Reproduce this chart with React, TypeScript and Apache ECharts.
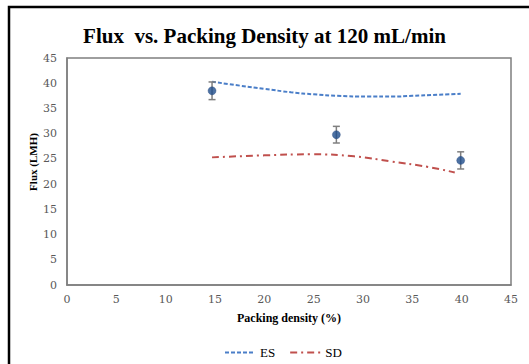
import React, { useEffect, useRef } from "react";
import * as echarts from "echarts";

const titleText = "Flux  vs. Packing Density at 120 mL/min";
const xName = "Packing density (%)";
const yName = "Flux (LMH)";

const pointX = [14.7, 27.3, 39.9];
const pointY = [38.5, 29.8, 24.7];
const pointErr = [1.75, 1.65, 1.7];

const esX = [14.7, 17.6, 20, 22.7, 25, 27.4, 30.5, 33, 35, 37.5, 39.9];
const esY = [40.3, 39.5, 38.9, 38.2, 37.8, 37.5, 37.35, 37.35, 37.5, 37.7, 37.9];

const sdX = [14.7, 20, 24.7, 29.1, 32.8, 36.6, 39.3];
const sdY = [25.3, 25.7, 25.9, 25.5, 24.5, 23.4, 22.3];

const SERIF = "Liberation Serif";
const TICKFONT = "DejaVu Serif";

export default function App() {
  const ref = useRef<HTMLDivElement>(null);
  useEffect(() => {
    document.body.style.margin = "0";
    const chart = echarts.init(ref.current!, null, { renderer: "svg" });
    const option: any = {
      animation: false,
      backgroundColor: "#fff",
      title: {
        text: titleText,
        left: "center",
        top: 20,
        textStyle: { fontFamily: SERIF, fontSize: 21, fontWeight: "bold", color: "#000" },
      },
      grid: {
        left: 67,
        right: 18,
        top: 58,
        bottom: 79,
        show: true,
        borderColor: "#7f7f7f",
        borderWidth: 1.5,
      },
      xAxis: {
        type: "value",
        min: 0,
        max: 45,
        interval: 5,
        name: xName,
        nameLocation: "middle",
        nameGap: 27,
        nameTextStyle: { fontFamily: SERIF, fontSize: 12, fontWeight: "bold", color: "#000" },
        axisLine: { show: true, lineStyle: { color: "#7f7f7f", width: 1.5 } },
        axisTick: { show: false },
        splitLine: { show: false },
        axisLabel: { fontFamily: TICKFONT, fontSize: 11, color: "#595959", margin: 9 },
      },
      yAxis: {
        type: "value",
        min: 0,
        max: 45,
        interval: 5,
        axisLine: { show: true, lineStyle: { color: "#7f7f7f", width: 1.5 } },
        axisTick: { show: false },
        splitLine: { show: false },
        axisLabel: { fontFamily: TICKFONT, fontSize: 11, color: "#595959", margin: 10 },
      },
      legend: {
        data: ["ES", "SD"],
        left: 219,
        top: 341,
        itemWidth: 30,
        itemHeight: 8,
        itemGap: 14,
        itemStyle: { opacity: 0 },
        textStyle: { fontFamily: SERIF, fontSize: 13, color: "#000" },
      },
      graphic: [
        {
          type: "rect",
          shape: { x: 9, y: 7, width: 700, height: 500 },
          style: { fill: "none", stroke: "#000", lineWidth: 2.5 },
          silent: true,
        },
        {
          type: "text",
          x: 33,
          y: 162,
          rotation: Math.PI / 2,
          style: {
            text: yName,
            fontFamily: SERIF,
            fontSize: 11,
            fontWeight: "bold",
            fill: "#000",
            align: "center",
            verticalAlign: "middle",
          },
        },
      ],
      series: [
        {
          name: "ES",
          type: "line",
          smooth: true,
          symbol: "none",
          data: esX.map((x, i) => [x, esY[i]]),
          lineStyle: { color: "#4a7ec8", width: 2, type: [4, 2] },
          itemStyle: { color: "#4a7ec8" },
          z: 2,
        },
        {
          name: "SD",
          type: "line",
          smooth: true,
          symbol: "none",
          data: sdX.map((x, i) => [x, sdY[i]]),
          lineStyle: { color: "#c0504d", width: 2, type: [7, 4, 2, 4] },
          itemStyle: { color: "#c0504d" },
          z: 2,
        },
        {
          name: "errors",
          type: "custom",
          data: pointX.map((x, i) => [x, pointY[i] - pointErr[i], pointY[i] + pointErr[i]]),
          renderItem: (params: any, api: any) => {
            const lo = api.coord([api.value(0), api.value(1)]);
            const hi = api.coord([api.value(0), api.value(2)]);
            const style = { stroke: "#7f7f7f", lineWidth: 1.5 };
            const cap = 3.5;
            return {
              type: "group",
              children: [
                { type: "line", shape: { x1: lo[0], y1: lo[1], x2: hi[0], y2: hi[1] }, style },
                { type: "line", shape: { x1: lo[0] - cap, y1: lo[1], x2: lo[0] + cap, y2: lo[1] }, style },
                { type: "line", shape: { x1: hi[0] - cap, y1: hi[1], x2: hi[0] + cap, y2: hi[1] }, style },
              ],
            };
          },
          z: 3,
        },
        {
          name: "Flux",
          type: "scatter",
          symbol: "circle",
          symbolSize: 8,
          data: pointX.map((x, i) => [x, pointY[i]]),
          itemStyle: { color: "#1f4e8c", borderColor: "#2a4a80", borderWidth: 0.5 },
          z: 4,
        },
      ],
    };
    chart.setOption(option);
    return () => chart.dispose();
  }, []);
  return (
    <div
      ref={ref}
      style={{ position: "absolute", left: 0, top: 0, width: 529, height: 364 }}
    />
  );
}
